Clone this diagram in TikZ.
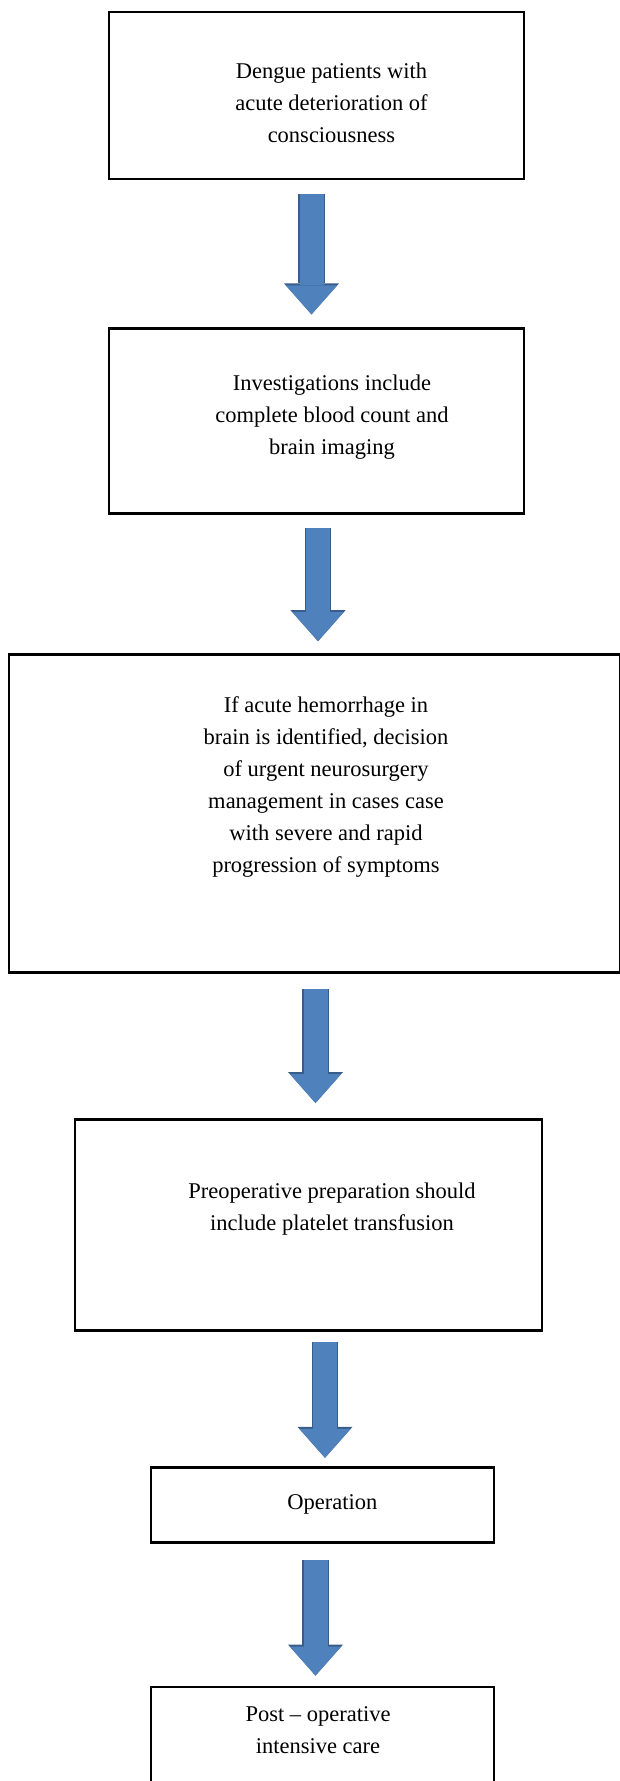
\documentclass[tikz,border=0pt]{standalone}
\usepackage{fontspec}
\setmainfont{Liberation Serif}
\usetikzlibrary{arrows.meta,positioning}

\definecolor{arrowblue}{RGB}{79,129,189}
\definecolor{arrowedge}{RGB}{56,93,138}

\begin{document}
\begin{tikzpicture}[
        x=1pt, y=-1pt,
        stage/.style={rectangle, draw=black, fill=white, line width=2.8pt, inner sep=0pt},
        boxtext/.style={align=center, inner sep=0pt, font=\fontsize{22.5}{32}\selectfont},
        downarrow/.style={draw=arrowblue, line width=24pt,
                          -{Triangle[width=51pt, length=29pt, line width=0pt]},
                          preaction={draw=arrowedge, line width=26.5pt,
                                     -{Triangle[width=55pt, length=31pt, line width=0pt]}}}
    ]
        \useasboundingbox (0,0) rectangle (620,1781);

        \node[stage, minimum width=415pt, minimum height=167pt] (onset) at (316.5,95.5) {};
        \node[stage, minimum width=415pt, minimum height=185pt, below=147pt of onset] (investig) {};
        \node[stage, minimum width=611pt, minimum height=318pt, below=138pt of investig, xshift=-2pt] (decision) {};
        \node[stage, minimum width=467pt, minimum height=211pt, below=144pt of decision, xshift=-6pt] (preop) {};
        \node[stage, minimum width=343pt, minimum height=75pt, below=134pt of preop, xshift=14pt] (operation) {};
        \node[stage, minimum width=343pt, minimum height=127pt, below=142pt of operation] (postop) {};

        \node[boxtext] (onset-txt) at ([xshift=15pt, yshift=-7.7pt]onset.center)
            {Dengue patients with\\ acute deterioration of\\ consciousness};
        \node[boxtext] (investig-txt) at ([xshift=15.5pt, yshift=4.3pt]investig.center)
            {Investigations include\\ complete blood count and\\ brain imaging};
        \node[boxtext] (decision-txt) at ([xshift=11.5pt, yshift=26.5pt]decision.center)
            {If acute hemorrhage in\\ brain is identified, decision\\ of urgent neurosurgery\\
             management in cases case\\ with severe and rapid\\ progression of symptoms};
        \node[boxtext] (preop-txt) at ([xshift=23.5pt, yshift=15.8pt]preop.center)
            {Preoperative preparation should\\ include platelet transfusion};
        \node[boxtext] (operation-txt) at ([xshift=9.8pt]operation.center) {Operation};
        \node[boxtext] (postop-txt) at ([xshift=-4.5pt, yshift=-45pt]postop.north)
            {Post -- operative\\ intensive care};

        \foreach \from/\to/\dx/\ga/\gb in {onset/investig/-5/14/13, investig/decision/1.5/13/12,
                decision/preop/1/15/15, preop/operation/16.5/10/8, operation/postop/-7/16/10}
            \draw[downarrow] ([xshift=\dx pt, yshift=-\ga pt]\from.south)
                -- ([xshift=\dx pt, yshift=\gb pt]\from.south |- \to.north);
    \end{tikzpicture}
\end{document}
